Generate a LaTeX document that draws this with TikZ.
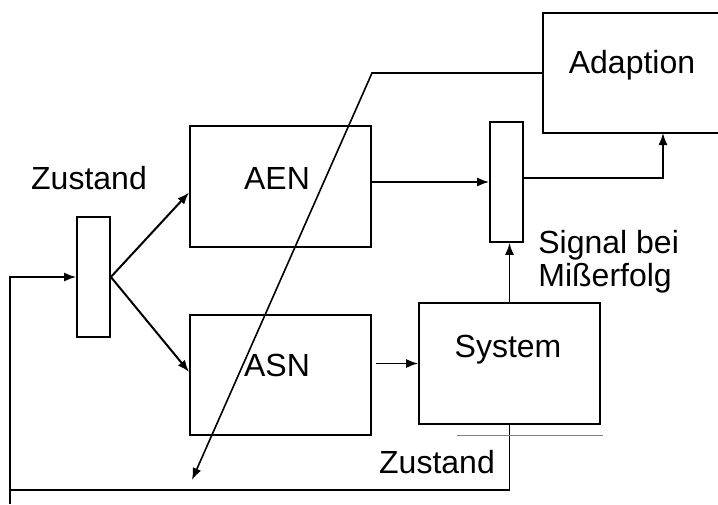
\documentclass[tikz,border=0pt]{standalone}
\usepackage{fontspec}
\setmainfont{Liberation Sans}
\usetikzlibrary{arrows.meta}

\begin{document}
\begin{tikzpicture}[
    x=0.5pt,y=-0.5pt,font=\fontsize{16}{16.5}\selectfont,
    box/.style={draw, line width=0.9pt, minimum width=90.5pt, minimum height=60.5pt, inner sep=0pt},
    bar/.style={draw, line width=0.9pt, minimum width=16.5pt, minimum height=60pt, inner sep=0pt},
    line/.style={line width=0.8pt},
    arr/.style={line, -{Latex[length=6pt,width=4.5pt]}}
    ]
    \useasboundingbox (0, 0) rectangle (718, 504);
    \node[box, minimum width=98.5pt, minimum height=60pt] (adapt) at (641.5, 73) {};
    \node[box] (aen) at (280.5, 186.5) {};
    \node[box, minimum height=60pt] (asn) at (280.5, 375) {};
    \node[box] (sys) at (509.5, 363.5) {};
    \node[bar] (barl) at (93.5, 277) {};
    \node[bar] (barr) at (506.5, 182) {};
    \node (adapttxt) at (632, 65) {Adaption};
    \node (aentxt) at (277, 178) {AEN};
    \node (asntxt) at (277, 365) {ASN};
    \node (systxt) at (508, 350) {System};
    \node (zust1) at (89, 178) {Zustand};
    \node (zust2) at (437, 462) {Zustand};
    \node[align=left, anchor=west, inner sep=0pt] (signal) at (538, 262) {Signal bei\\Mißerfolg};
    \coordinate (kink) at (372, 73);
    \coordinate (tip) at (192, 480);
    \coordinate (adin) at (663, 133);
    \coordinate (fbl) at (10, 490);
    % connections
    \draw[arr, line width=1pt] (barl.east) -- ([yshift=-3pt]aen.west);
    \draw[arr, line width=1pt] (barl.east) -- ([yshift=1.5pt]asn.west);
    \draw[arr] ([xshift=2pt]asn.east |- sys.west) -- (sys.west);
    \draw[arr] (aen.east |- barr.west) -- (barr.west);
    \draw[arr] (sys.north) -- (sys.north |- barr.south);
    \draw[arr] ([yshift=2pt]barr.east) -| (adin);
    \draw[arr] (adapt.west) -- (kink) -- (tip);
    \draw[arr] (sys.south) |- (fbl) |- (barl.west);
    \draw[line] (fbl) -- (10, 504);
    \draw[gray, line width=0.5pt] (457, 435) -- (603, 435);
\end{tikzpicture}
\end{document}
